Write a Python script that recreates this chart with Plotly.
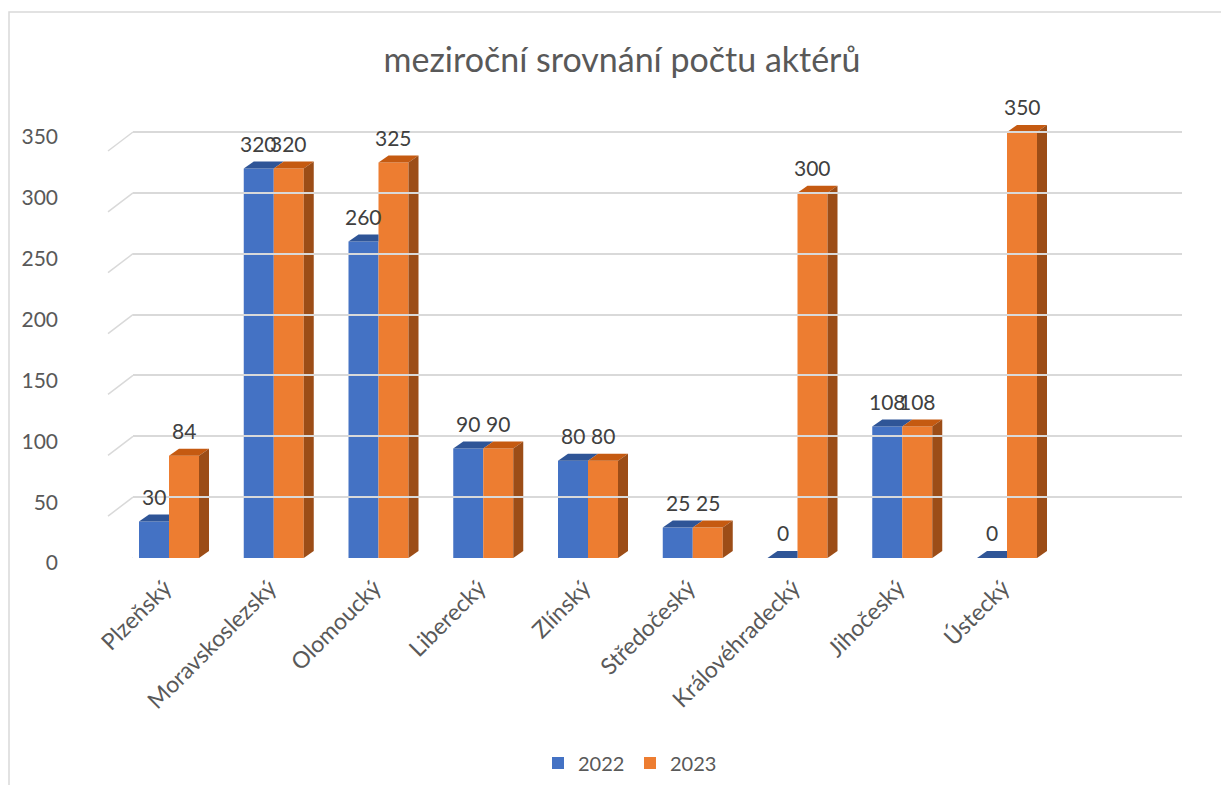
import plotly.graph_objects as go

categories = ["Plzeňský", "Moravskoslezský", "Olomoucký", "Liberecký", "Zlínský",
              "Středočeský", "Královéhradecký", "Jihočeský", "Ústecký"]
values_2022 = [30, 320, 260, 90, 80, 25, 0, 108, 0]
values_2023 = [84, 320, 325, 90, 80, 25, 300, 108, 350]
series_names = ["2022", "2023"]
y_ticks = [0, 50, 100, 150, 200, 250, 300, 350]
title_text = "meziroční srovnání počtu aktérů"

# ---- layout / style constants (page pixels) ----
PAGE_W, PAGE_H = 1229, 793
OFF = 8                  # default body margin of the html page
W, H = PAGE_W - 2 * OFF, PAGE_H - 2 * OFF
S = 426 / 350.0          # px per value unit
YMAX = 380
FRONT0 = 558             # pixel y of bar bases (front)
BACK0 = 544              # pixel y of back-wall zero gridline
CAT0 = 169               # pixel x of first category center
STEP = 104.75            # px per category
X_LEFT, X_RIGHT = 108, 1182
GRID_LEFT = 133
DX_PX, DY_PX = 10, 7     # 3D depth offsets
BAR_PX = 30

BLUE, ORANGE = "#4472C4", "#ED7D31"
BLUE_TOP = "#2F5597"
ORANGE_TOP = "#C55A11"
ORANGE_SIDE = "#9C4D17"
FONT = "Lato, Open Sans, sans-serif"
TXT = "#595959"

def px_x(p):
    return (p - OFF) / W

def px_y(p):
    return 1 - (p - OFF) / H

BW = BAR_PX / STEP
DX = DX_PX / STEP
DY = DY_PX / S
xr = [(X_LEFT - CAT0) / STEP, (X_RIGHT - CAT0) / STEP]

fig = go.Figure()
xs = list(range(len(categories)))
fig.add_trace(go.Bar(x=xs, y=values_2022, name=series_names[0], marker_color=BLUE,
                     marker_line_width=0))
fig.add_trace(go.Bar(x=xs, y=values_2023, name=series_names[1], marker_color=ORANGE,
                     marker_line_width=0))

def face(xp, yp, color):
    fig.add_trace(go.Scatter(x=xp + [xp[0]], y=yp + [yp[0]], fill="toself", mode="lines",
                             line=dict(width=0, color=color), fillcolor=color,
                             showlegend=False, hoverinfo="skip"))

for i in xs:
    vb, vo = values_2022[i], values_2023[i]
    x0, x1, x2 = i - BW, i, i + BW
    if vo > vb:
        face([x0, x1, x1, x0 + DX], [vb, vb, vb + DY, vb + DY], BLUE_TOP)
    else:
        face([x0, x1, x1 + DX, x0 + DX], [vb, vb, vb + DY, vb + DY], BLUE_TOP)
    face([x1, x2, x2 + DX, x1 + DX], [vo, vo, vo + DY, vo + DY], ORANGE_TOP)
    face([x2, x2 + DX, x2 + DX, x2], [0, DY, vo + DY, vo], ORANGE_SIDE)

fig.add_trace(go.Scatter(x=[0], y=[0], xaxis="x2", yaxis="y2", mode="markers",
                         marker=dict(opacity=0), showlegend=False, hoverinfo="skip"))

annotations = []
for i in xs:
    for v, off in ((values_2022[i], -BW / 2), (values_2023[i], BW / 2)):
        annotations.append(dict(x=i + off, y=v, xref="x", yref="y", text=str(v),
                                showarrow=False, yshift=25, yanchor="middle",
                                font=dict(family=FONT, size=21, color="#404040")))

shapes = []
for t in y_ticks:
    shapes.append(dict(type="line", xref="paper", yref="y2",
                       x0=px_x(X_LEFT), x1=px_x(GRID_LEFT),
                       y0=t - (FRONT0 + 5 - BACK0) / S, y1=t,
                       line=dict(color="#D9D9D9", width=1.5), layer="below"))
shapes.append(dict(type="rect", xref="paper", yref="paper",
                   x0=px_x(OFF + 1), x1=px_x(PAGE_W + 20), y0=px_y(12), y1=px_y(PAGE_H + 20),
                   line=dict(color="#D9D9D9", width=1.5), layer="below"))

fig.update_layout(
    width=W, height=H,
    margin=dict(l=0, r=0, t=0, b=0, pad=0, autoexpand=False),
    paper_bgcolor="white", plot_bgcolor="rgba(0,0,0,0)",
    barmode="group", bargap=1 - 2 * BW, bargroupgap=0,
    title=dict(text=title_text, x=px_x(622), y=px_y(60), xanchor="center", yanchor="middle",
               font=dict(family=FONT, size=34, color=TXT)),
    xaxis=dict(domain=[px_x(X_LEFT), px_x(X_RIGHT)], range=xr, tickmode="array",
               tickvals=xs, ticktext=categories, tickangle=-45, showgrid=False,
               zeroline=False, showline=False, ticks="", ticklabelstandoff=11,
               ticklabelshift=-4, automargin=False,
               tickfont=dict(family=FONT, size=23, color=TXT)),
    yaxis=dict(domain=[px_y(FRONT0), px_y(FRONT0 - YMAX * S)], range=[0, YMAX],
               anchor="free", position=px_x(58), tickmode="array", tickvals=y_ticks,
               showgrid=False, zeroline=False, showline=False, ticks="", automargin=False,
               ticklabelshift=5, tickfont=dict(family=FONT, size=21, color=TXT)),
    xaxis2=dict(domain=[px_x(GRID_LEFT), px_x(X_RIGHT)], range=[0, 1], visible=False,
                anchor="y2", automargin=False),
    yaxis2=dict(domain=[px_y(BACK0), px_y(BACK0 - YMAX * S)], range=[0, YMAX],
                anchor="x2", overlaying="y", tickmode="array", tickvals=y_ticks,
                showgrid=True, gridcolor="#D9D9D9", gridwidth=1.5, zeroline=False,
                showticklabels=False, ticks="", showline=False, automargin=False),
    legend=dict(orientation="h", x=px_x(630), y=px_y(763), xanchor="center", yanchor="middle",
                font=dict(family=FONT, size=20, color=TXT), traceorder="normal",
                itemwidth=30, entrywidth=47, entrywidthmode="pixels"),
    annotations=annotations,
    shapes=shapes,
    showlegend=True,
)

fig.write_html("out.html")
